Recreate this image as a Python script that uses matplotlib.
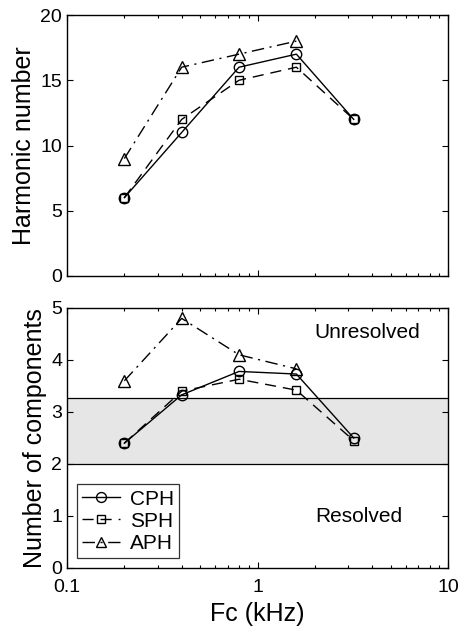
import matplotlib
matplotlib.use("Agg")
import matplotlib.pyplot as plt
from matplotlib.ticker import NullFormatter

plt.rcParams['font.family'] = ['Liberation Sans', 'DejaVu Sans']

fc = [0.2, 0.4, 0.8, 1.6, 3.2]
fc_aph = [0.2, 0.4, 0.8, 1.6]

harm_cph = [6, 11, 16, 17, 12]
harm_sph = [6, 12, 15, 16, 12]
harm_aph = [9, 16, 17, 18]

comp_cph = [2.4, 3.33, 3.78, 3.73, 2.5]
comp_sph = [2.4, 3.4, 3.63, 3.42, 2.45]
comp_aph = [3.6, 4.8, 4.1, 3.83]

band = (2.0, 3.27)

fig = plt.figure(figsize=(4.59, 6.28), dpi=100)
W, H = 459, 628
ax1 = fig.add_axes([67/W, 1-276/H, 381/W, 261/H])
ax2 = fig.add_axes([67/W, 1-568/H, 381/W, 260/H])

mk = dict(color='black', markerfacecolor='none', markeredgecolor='black',
          linewidth=1.0, markeredgewidth=1.0)
ls_sph = (0, (8, 5))
ls_aph = (0, (9, 4, 1.5, 4))
ms_o, ms_s, ms_t = 7.5, 6.2, 8

for ax in (ax1, ax2):
    ax.set_xscale('log')
    ax.set_xlim(0.1, 10)
    ax.tick_params(which='both', direction='in', top=True, right=True,
                   labelsize=14, width=0.8)
    ax.tick_params(which='major', length=4)
    ax.tick_params(which='minor', length=2)
    ax.tick_params(axis='x', which='major', pad=8)
    for s in ax.spines.values():
        s.set_linewidth(1.0)

ax1.plot(fc, harm_cph, marker='o', markersize=ms_o, linestyle='-', **mk)
ax1.plot(fc, harm_sph, marker='s', markersize=ms_s, linestyle=ls_sph, **mk)
ax1.plot(fc_aph, harm_aph, marker='^', markersize=ms_t, linestyle=ls_aph, **mk)
ax1.set_ylim(0, 20)
ax1.set_yticks([0, 5, 10, 15, 20])
ax1.xaxis.set_minor_formatter(NullFormatter())
ax1.xaxis.set_major_formatter(NullFormatter())
ax1.set_ylabel('Harmonic number', fontsize=18, labelpad=3)

ax2.axhspan(band[0], band[1], facecolor='#e6e6e6', edgecolor='none', zorder=0)
ax2.axhline(band[0], color='black', linewidth=0.9, zorder=1)
ax2.axhline(band[1], color='black', linewidth=0.9, zorder=1)
ax2.plot(fc, comp_cph, marker='o', markersize=ms_o, linestyle='-', label='CPH', **mk)
ax2.plot(fc, comp_sph, marker='s', markersize=ms_s, linestyle=ls_sph, label='SPH', **mk)
ax2.plot(fc_aph, comp_aph, marker='^', markersize=ms_t, linestyle=ls_aph, label='APH', **mk)
ax2.set_ylim(0, 5)
ax2.set_yticks([0, 1, 2, 3, 4, 5])
ax2.set_xticks([0.1, 1, 10])
ax2.set_xticklabels(['0.1', '1', '10'])
ax2.xaxis.set_minor_formatter(NullFormatter())
ax2.set_xlabel('Fc (kHz)', fontsize=18, labelpad=4)
ax2.set_ylabel('Number of components', fontsize=18, labelpad=3)
ax2.text(0.789, 4.52, 'Unresolved', transform=ax2.get_yaxis_transform(),
         ha='center', va='center', fontsize=15)
ax2.text(0.765, 1.0, 'Resolved', transform=ax2.get_yaxis_transform(),
         ha='center', va='center', fontsize=15)
leg = ax2.legend(loc='lower left', fontsize=15, frameon=True, fancybox=False,
                 edgecolor='black', handlelength=1.8, borderpad=0.25,
                 labelspacing=0.15, handletextpad=0.5, markerscale=0.95,
                 borderaxespad=0, bbox_to_anchor=(0.026, 0.038))
leg.get_frame().set_linewidth(0.9)

fig.savefig('out.png', dpi=100)
